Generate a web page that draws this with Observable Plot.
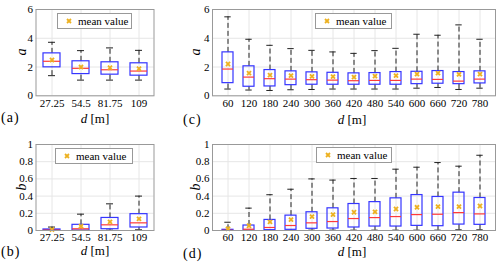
<!DOCTYPE html>
<html>
<head>
<meta charset="utf-8">
<script src="https://cdn.jsdelivr.net/npm/d3@7"></script>
<script src="https://cdn.jsdelivr.net/npm/@observablehq/plot@0.6"></script>
<style>
  html, body { margin: 0; padding: 0; background: #fff; }
  #root { position: relative; width: 500px; height: 265px; overflow: hidden; font-family: "Liberation Serif", "Times New Roman", "DejaVu Serif", serif; color: #000; }
  .panel { position: absolute; }
  .ylbl { position: absolute; font-size: 14px; font-style: italic; line-height: 1; transform: translate(-50%, -50%) rotate(-90deg); }
  .xlbl { position: absolute; font-size: 13px; line-height: 1; transform: translate(-50%, -50%); white-space: nowrap; }
  .plet { position: absolute; font-size: 14px; line-height: 1; transform: translateY(-50%); letter-spacing: 1px; }
  .legend { position: absolute; border: 1px solid #999; background: #fff; font-size: 11px; box-sizing: border-box; display: flex; align-items: center; }
  .legend svg { margin-left: 8px; margin-right: 6px; }
</style>
</head>
<body>
<div id="root"></div>
<script>
// ---------- data ----------
const dShort = ["27.25", "54.5", "81.75", "109"];
const dLong = ["60", "120", "180", "240", "300", "360", "420", "480", "540", "600", "660", "720", "780"];

const aShortLow  = [1.40, 1.09, 1.09, 1.09];
const aShortQ1   = [1.98, 1.51, 1.47, 1.40];
const aShortMed  = [2.40, 1.91, 1.81, 1.72];
const aShortQ3   = [2.95, 2.40, 2.33, 2.26];
const aShortHigh = [3.72, 3.14, 3.33, 3.16];
const aShortMean = [2.49, 2.00, 1.95, 1.88];

const aLongLow  = [0.47, 0.40, 0.37, 0.42, 0.44, 0.47, 0.47, 0.47, 0.47, 0.53, 0.58, 0.44, 0.53];
const aLongQ1   = [0.88, 0.63, 0.65, 0.74, 0.77, 0.77, 0.77, 0.77, 0.77, 0.81, 0.84, 0.81, 0.86];
const aLongMed  = [1.86, 1.30, 1.19, 1.16, 1.12, 1.09, 1.05, 1.07, 1.07, 1.16, 1.14, 1.02, 1.16];
const aLongQ3   = [3.02, 2.05, 1.79, 1.70, 1.63, 1.60, 1.56, 1.58, 1.65, 1.67, 1.72, 1.65, 1.70];
const aLongHigh = [5.49, 3.93, 3.51, 3.28, 3.16, 3.05, 2.95, 3.14, 3.30, 4.28, 4.21, 4.93, 3.93];
const aLongMean = [2.21, 1.58, 1.44, 1.40, 1.35, 1.33, 1.30, 1.37, 1.40, 1.51, 1.58, 1.49, 1.51];

const bShortLow  = [0.000, 0.000, 0.004, 0.008];
const bShortQ1   = [0.000, 0.000, 0.015, 0.035];
const bShortMed  = [0.005, 0.020, 0.066, 0.089];
const bShortQ3   = [0.012, 0.066, 0.146, 0.190];
const bShortHigh = [0.040, 0.190, 0.310, 0.400];
const bShortMean = [0.010, 0.050, 0.100, 0.135];

const bLongLow  = [0.000, 0.000, 0.000, 0.000, 0.004, 0.004, 0.004, 0.004, 0.004, 0.004, 0.004, 0.008, 0.008];
const bLongQ1   = [0.000, 0.000, 0.004, 0.008, 0.020, 0.023, 0.035, 0.046, 0.046, 0.054, 0.050, 0.069, 0.066];
const bLongMed  = [0.003, 0.015, 0.035, 0.058, 0.089, 0.104, 0.139, 0.150, 0.162, 0.185, 0.189, 0.208, 0.193];
const bLongQ3   = [0.008, 0.058, 0.123, 0.173, 0.212, 0.258, 0.308, 0.330, 0.374, 0.412, 0.390, 0.440, 0.378];
const bLongHigh = [0.096, 0.260, 0.416, 0.480, 0.600, 0.586, 0.605, 0.605, 0.713, 0.736, 0.790, 0.748, 0.875];
const bLongMean = [0.020, 0.055, 0.100, 0.127, 0.162, 0.185, 0.212, 0.216, 0.250, 0.270, 0.277, 0.277, 0.285];

const aTicks = [0, 2, 4, 6];
const bTicks = [0, 0.2, 0.4, 0.6, 0.8, 1];

// ---------- helpers ----------
function rows(cats, low, q1, med, q3, high, mean) {
  return cats.map((d, i) => ({d, low: low[i], q1: q1[i], med: med[i], q3: q3[i], high: high[i], mean: mean[i]}));
}

const BLUE = "#3535ff", RED = "#ff3a3a", ORANGE = "#EDB120", GRID = "#e6e6e6";
const FONT = '"Liberation Serif", "Times New Roman", "DejaVu Serif", serif';

function boxChart({data, cats, yDomain, yTicks, width, height, margins, pIn, pOut, capInset}) {
  return Plot.plot({
    width, height,
    marginTop: margins[0], marginRight: margins[1], marginBottom: margins[2], marginLeft: margins[3],
    style: {fontFamily: FONT, fontSize: "11px", background: "transparent", overflow: "visible"},
    x: {type: "band", domain: cats, paddingInner: pIn, paddingOuter: pOut, label: null},
    y: {domain: yDomain, label: null},
    marks: [
      Plot.gridY(yTicks, {stroke: GRID, strokeOpacity: 1}),
      Plot.gridX({stroke: GRID, strokeOpacity: 1}),
      Plot.ruleX(data, {x: "d", y1: "q3", y2: "high", stroke: "#222", strokeDasharray: "5,3"}),
      Plot.ruleX(data, {x: "d", y1: "low", y2: "q1", stroke: "#222", strokeDasharray: "5,3"}),
      Plot.tickY(data, {x: "d", y: "high", stroke: "#222", insetLeft: capInset, insetRight: capInset}),
      Plot.tickY(data, {x: "d", y: "low", stroke: "#222", insetLeft: capInset, insetRight: capInset}),
      Plot.barY(data, {x: "d", y1: "q1", y2: "q3", fill: "none", stroke: BLUE, strokeWidth: 1.2}),
      Plot.tickY(data, {x: "d", y: "med", stroke: RED, strokeWidth: 1.2}),
      Plot.dot(data, {x: "d", y: "mean", symbol: "times", r: 2, stroke: ORANGE, strokeWidth: 1.8}),
      Plot.frame({stroke: "#999"}),
      Plot.axisX({tickSize: 0, tickPadding: 3, label: null}),
      Plot.axisY(yTicks, {tickSize: 0, tickPadding: 3, label: null, tickFormat: d => String(d)})
    ]
  });
}

const root = document.getElementById("root");
function place(node, left, top) {
  const div = document.createElement("div");
  div.className = "panel";
  div.style.left = left + "px";
  div.style.top = top + "px";
  div.appendChild(node);
  root.appendChild(div);
}
function addHTML(cls, html, left, top) {
  const div = document.createElement("div");
  div.className = cls;
  div.style.left = left + "px";
  div.style.top = top + "px";
  div.innerHTML = html;
  root.appendChild(div);
}
function legend(left, top, w, h) {
  const div = document.createElement("div");
  div.className = "legend";
  Object.assign(div.style, {left: left + "px", top: top + "px", width: w + "px", height: h + "px"});
  div.innerHTML = `<svg width="6" height="6" viewBox="-3 -3 6 6"><path d="M-2,-2L2,2M2,-2L-2,2" stroke="${ORANGE}" stroke-width="1.8"/></svg><span>mean value</span>`;
  root.appendChild(div);
}

const shortOpts = {width: 170, pIn: 0.42, pOut: 0.21, capInset: 5};
const longOpts = {width: 330, pIn: 0.5, pOut: 0.25, capInset: 2.3};

// (a)
place(boxChart({...shortOpts, data: rows(dShort, aShortLow, aShortQ1, aShortMed, aShortQ3, aShortHigh, aShortMean),
  cats: dShort, yDomain: [0, 6], yTicks: aTicks, height: 132, margins: [9, 16.5, 36.7, 35.5]}), 0, 0);
// (c)
place(boxChart({...longOpts, data: rows(dLong, aLongLow, aLongQ1, aLongMed, aLongQ3, aLongHigh, aLongMean),
  cats: dLong, yDomain: [0, 6], yTicks: aTicks, height: 132, margins: [9, 5, 36.7, 42]}), 170, 0);
// (b)
place(boxChart({...shortOpts, data: rows(dShort, bShortLow, bShortQ1, bShortMed, bShortQ3, bShortHigh, bShortMean),
  cats: dShort, yDomain: [0, 1], yTicks: bTicks, height: 133, margins: [12, 16.5, 35, 35.5]}), 0, 132);
// (d)
place(boxChart({...longOpts, data: rows(dLong, bLongLow, bLongQ1, bLongMed, bLongQ3, bLongHigh, bLongMean),
  cats: dLong, yDomain: [0, 1], yTicks: bTicks, height: 133, margins: [12, 5, 35, 42]}), 170, 132);

// legends
legend(57, 13, 75, 16);
legend(315, 13, 77, 16);
legend(55, 148, 78, 16);
legend(316, 147, 76, 16);

// axis labels
addHTML("ylbl", "a", 22, 52);
addHTML("ylbl", "a", 196, 52);
addHTML("ylbl", "b", 22, 187);
addHTML("ylbl", "b", 196, 187);
addHTML("xlbl", "<i>d</i> [m]", 95, 118);
addHTML("xlbl", "<i>d</i> [m]", 352, 119);
addHTML("xlbl", "<i>d</i> [m]", 95, 250);
addHTML("xlbl", "<i>d</i> [m]", 352, 251);
// panel letters
addHTML("plet", "(a)", 1, 118);
addHTML("plet", "(c)", 183, 120);
addHTML("plet", "(b)", 1, 252);
addHTML("plet", "(d)", 183, 254);
</script>
</body>
</html>
